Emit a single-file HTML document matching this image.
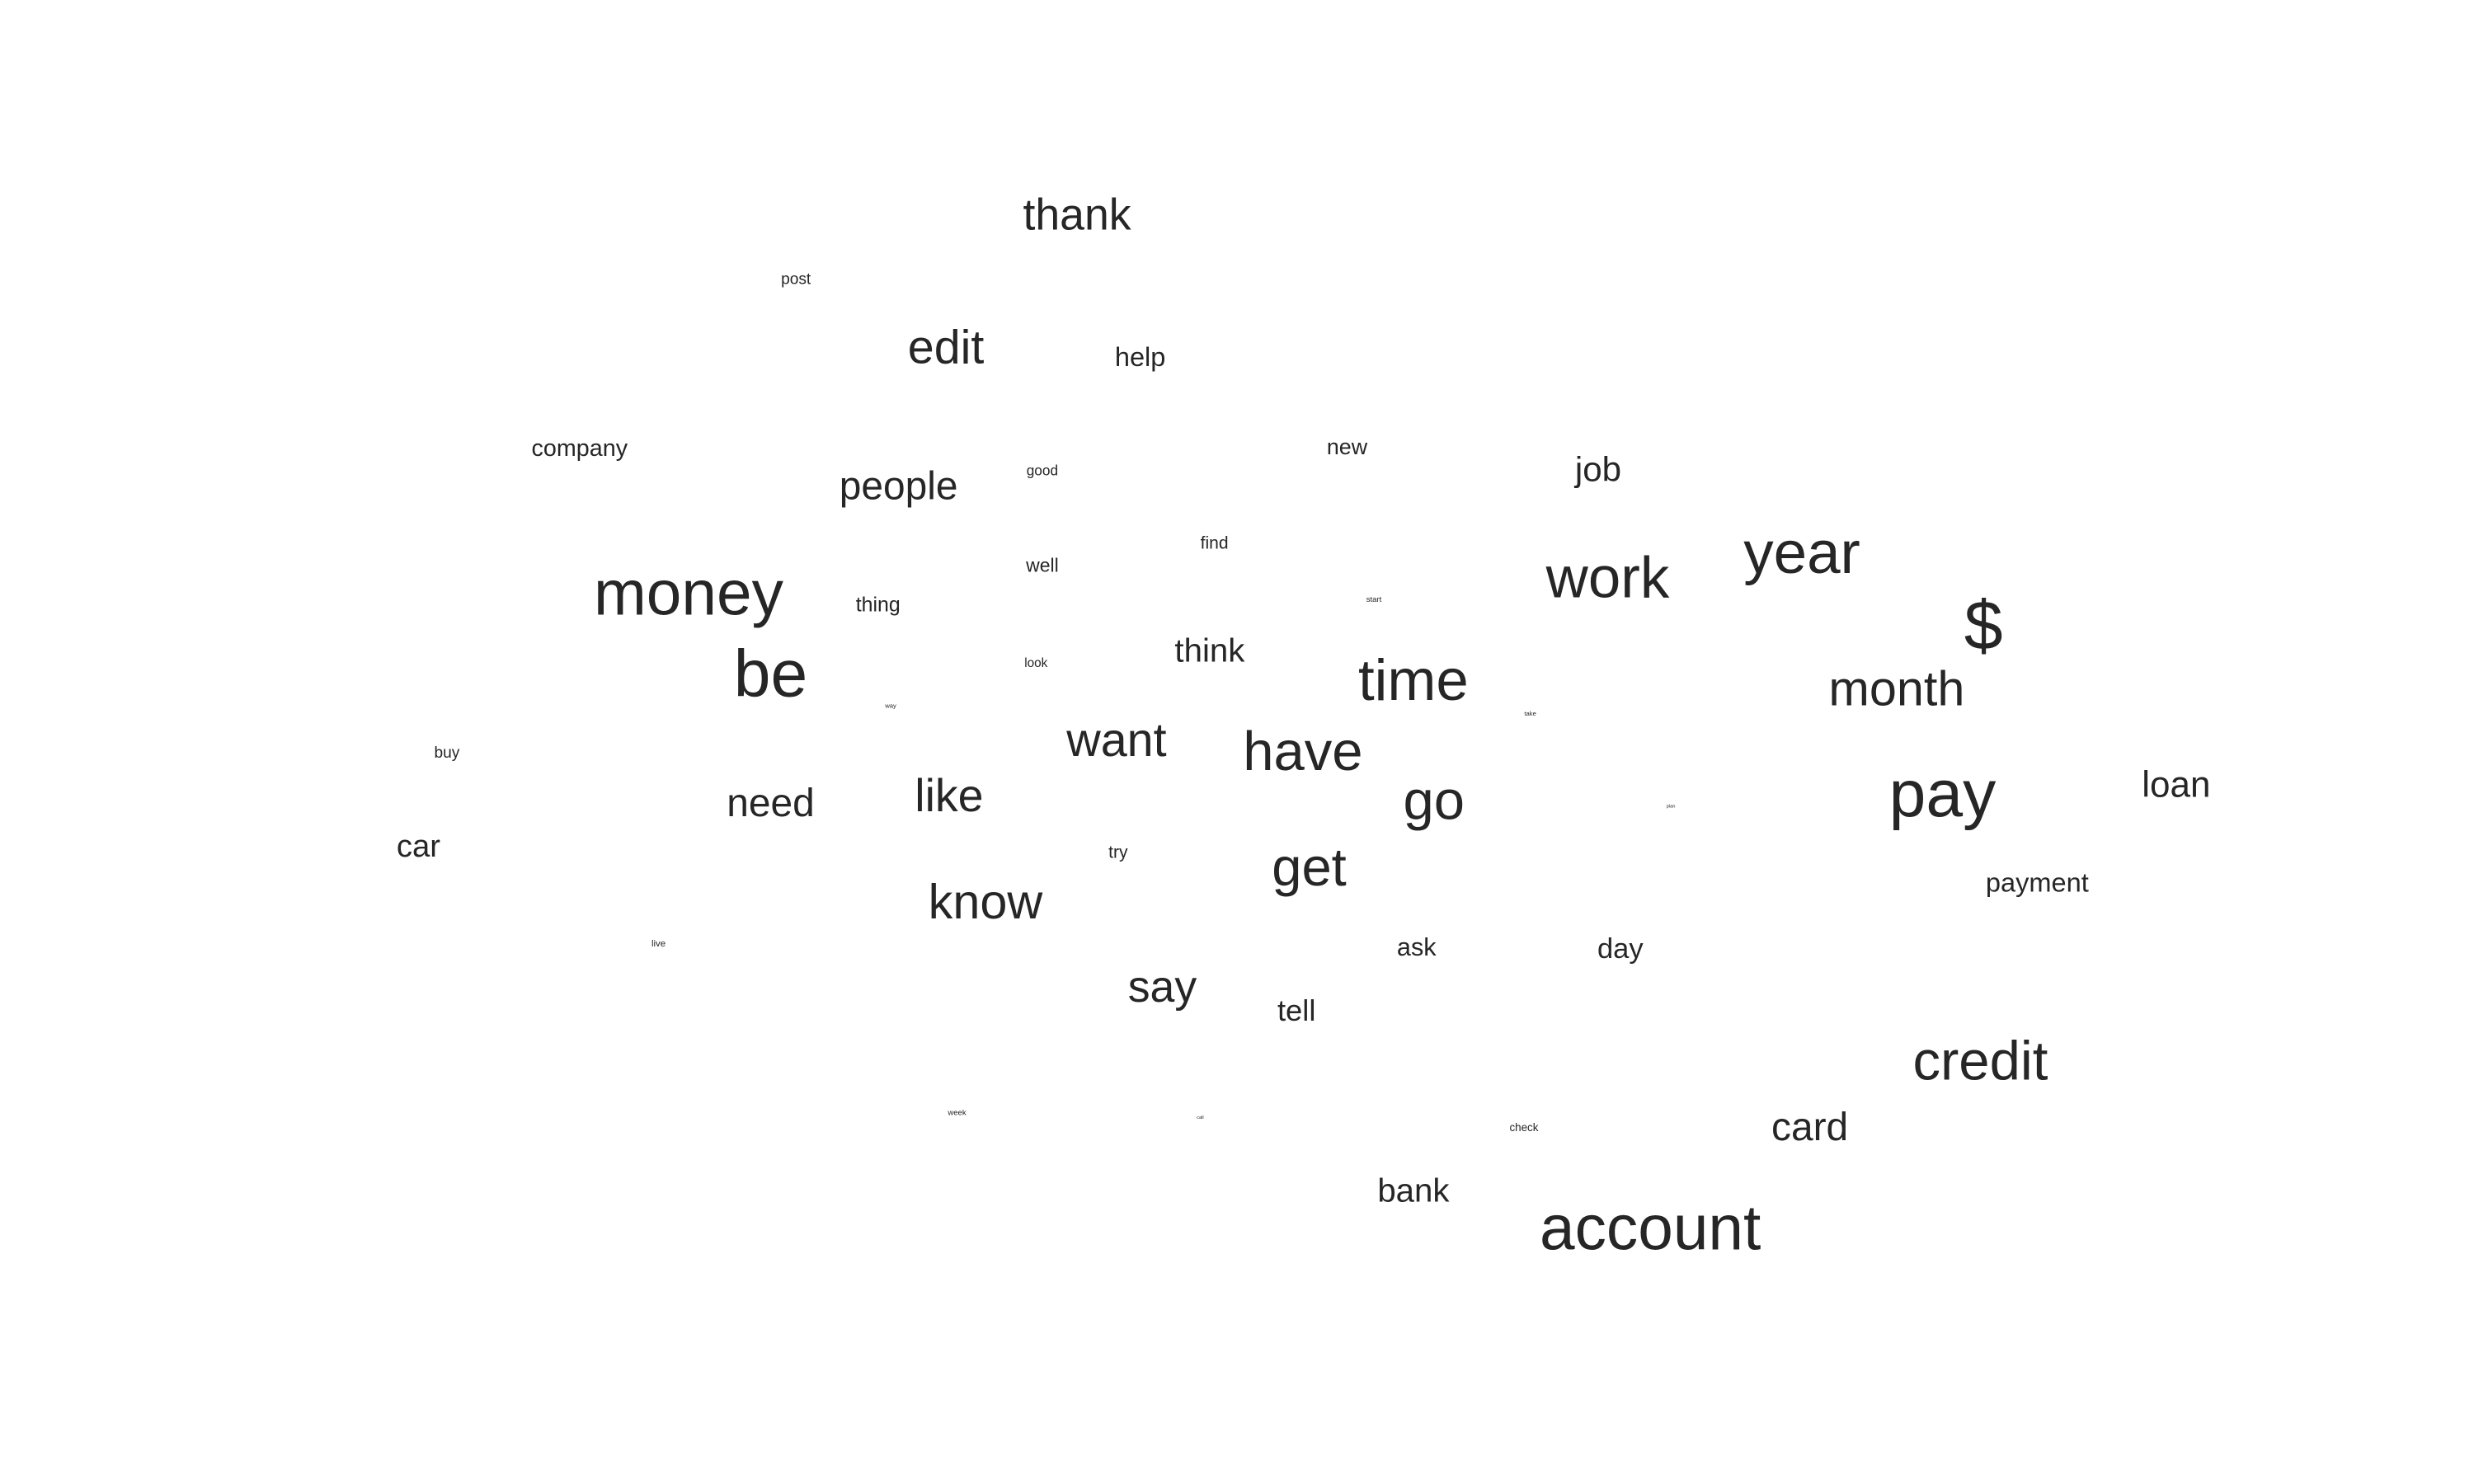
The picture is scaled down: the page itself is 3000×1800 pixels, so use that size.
<!DOCTYPE html>
<html><head><meta charset="utf-8"><title>Word embedding map</title>
<style>html,body{margin:0;padding:0;background:#fff;}svg{display:block;}</style></head>
<body>
<svg id="chart" width="3000" height="1800" viewBox="0 0 3000 1800" xmlns="http://www.w3.org/2000/svg">
<rect x="0" y="0" width="3000" height="1800" fill="#fff"/>
<g id="words"></g>
</svg>
<script>
const words = ["thank","post","edit","help","company","people","good","new","job","year","work","find","well","money","thing","start","$","be","look","think","time","month","take","way","buy","want","have","like","need","go","pay","loan","plan","car","try","get","payment","know","live","ask","day","say","tell","credit","card","week","call","check","bank","account"];
const xVals = [682,504,599,722,367,569,660,853,1012,1141,1018,769,660,436,556,870,1256,488,656,766,895,1201,969,564,283,707,825,601,488,908,1230,1378,1058,265,708,829,1290,624,417,897,1026,736,821,1254,1146,606,760,965,895,1045];
const yVals = [136,177,220,226,284,308,298,283,297,350,366,344,358,376,383,380,396,427,420,412,431,436,452,447,477,469,476,504,509,507,503,497,511,536,540,549,559,571,598,600,601,625,640,672,714,705,708,714,754,778];
const weights = [28,10,30,17,15,25,9,14,22,38,37,11,12,40,13,5,44,42,8,21,37,31,4,4,10,30,35,29,25,35,42,23,3,20,11,34,17,31,6,16,18,28,19,35,25,5,3,7,21,40];
const S = 1.915;
function xScale(v){return v*S;}
function yScale(v){return v*S;}
function fontScale(w){return w*S;}
const g = document.getElementById('words');
words.forEach((w,i)=>{
  const t = document.createElementNS('http://www.w3.org/2000/svg','text');
  t.setAttribute('x', xScale(xVals[i]));
  t.setAttribute('y', yScale(yVals[i]));
  t.setAttribute('text-anchor','middle');
  t.setAttribute('dominant-baseline','central');
  t.setAttribute('font-family','"Liberation Sans", Arial, sans-serif');
  t.setAttribute('font-size', fontScale(weights[i]));
  t.setAttribute('fill','#262626');
  t.textContent = w;
  
  
  g.appendChild(t);
});
</script>
</body></html>
